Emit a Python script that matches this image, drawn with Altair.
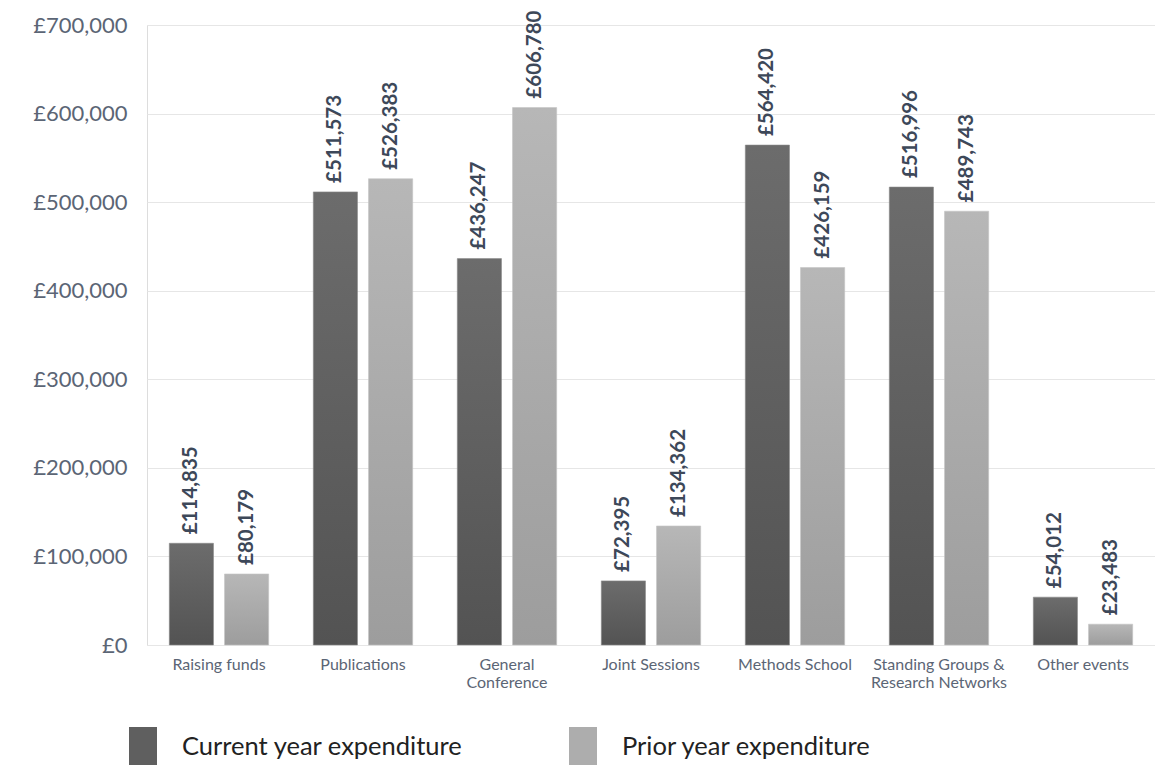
import altair as alt
import pandas as pd

categories = ["Raising funds", "Publications", "General|Conference", "Joint Sessions",
              "Methods School", "Standing Groups &|Research Networks", "Other events"]
current_year = [114835, 511573, 436247, 72395, 564420, 516996, 54012]
prior_year = [80179, 526383, 606780, 134362, 426159, 489743, 23483]
series = ["Current year expenditure", "Prior year expenditure"]

rows = []
for c, a, b in zip(categories, current_year, prior_year):
    rows.append({"category": c, "series": series[0], "value": a})
    rows.append({"category": c, "series": series[1], "value": b})
df = pd.DataFrame(rows)

FONT = "Lato"
LABEL_COLOR = "#5b6575"
VAL_COLOR = "#3d4859"

x_enc = alt.X("category:N", sort=categories,
              scale=alt.Scale(paddingInner=0.31, paddingOuter=0.155),
              axis=alt.Axis(title=None, labelAngle=0, labelFontSize=16, labelColor=LABEL_COLOR,
                            labelFont=FONT, labelPadding=11, domain=False, ticks=False,
                            labelExpr="split(datum.label, '|')", labelLineHeight=18,
                            labelBaseline="top"))
xo_enc = alt.XOffset("series:N", sort=series,
                     scale=alt.Scale(domain=series, paddingInner=0.2, paddingOuter=0))
y_enc = alt.Y("value:Q", scale=alt.Scale(domain=[0, 700000]),
              axis=alt.Axis(title=None, values=[0, 100000, 200000, 300000, 400000, 500000, 600000, 700000],
                            labelExpr="'£' + format(datum.value, ',')", labelFontSize=22,
                            labelColor=LABEL_COLOR, labelFont=FONT, labelPadding=20,
                            domain=False, ticks=False, gridColor="#e6e6e6", gridWidth=1))

dark_grad = alt.Gradient(gradient="linear", x1=0, y1=0, x2=0, y2=1,
                         stops=[alt.GradientStop(offset=0, color="#6c6c6c"),
                                alt.GradientStop(offset=1, color="#535353")])
light_grad = alt.Gradient(gradient="linear", x1=0, y1=0, x2=0, y2=1,
                          stops=[alt.GradientStop(offset=0, color="#b7b7b7"),
                                 alt.GradientStop(offset=1, color="#9d9d9d")])

base = alt.Chart(df)

bars_cur = base.transform_filter(alt.datum.series == series[0]).mark_bar(
    fill=dark_grad, stroke="#8a8a8a", strokeWidth=0.6).encode(x=x_enc, xOffset=xo_enc, y=y_enc)
bars_pri = base.transform_filter(alt.datum.series == series[1]).mark_bar(
    fill=light_grad, stroke="#c4c4c4", strokeWidth=0.6).encode(x=x_enc, xOffset=xo_enc, y=y_enc)

labels = base.transform_calculate(
    lbl="'£' + format(datum.value, ',')"
).mark_text(angle=270, align="left", baseline="middle", dx=9, fontSize=20.5,
            fontWeight="bold", font=FONT, color=VAL_COLOR).encode(
    x=x_enc, xOffset=xo_enc, y=y_enc, text="lbl:N")

legend_layer = base.mark_point(filled=True, opacity=0, size=0).encode(
    x=x_enc, xOffset=xo_enc, y=y_enc,
    color=alt.Color("series:N", sort=series,
                    scale=alt.Scale(domain=series, range=["#5f5f5f", "#adadad"]),
                    legend=alt.Legend(title=None, orient="none", direction="horizontal",
                                      legendX=-24, legendY=702,
                                      symbolType="M-0.7,-1H0.7V1H-0.7Z", symbolSize=1600,
                                      symbolOpacity=1, symbolStrokeWidth=0,
                                      labelFontSize=25.5, labelFont=FONT, labelColor="#222222",
                                      labelOffset=19, columnPadding=100, labelLimit=400))
)

chart = alt.layer(bars_cur, bars_pri, labels, legend_layer).properties(
    width=1008, height=620,
    autosize=alt.AutoSizeParams(type="none"),
    padding={"left": 147, "top": 25, "right": 0, "bottom": 120},
).configure_view(stroke=None).configure(background="white")

chart.save("out.html", embed_options={"renderer": "svg", "actions": False})
